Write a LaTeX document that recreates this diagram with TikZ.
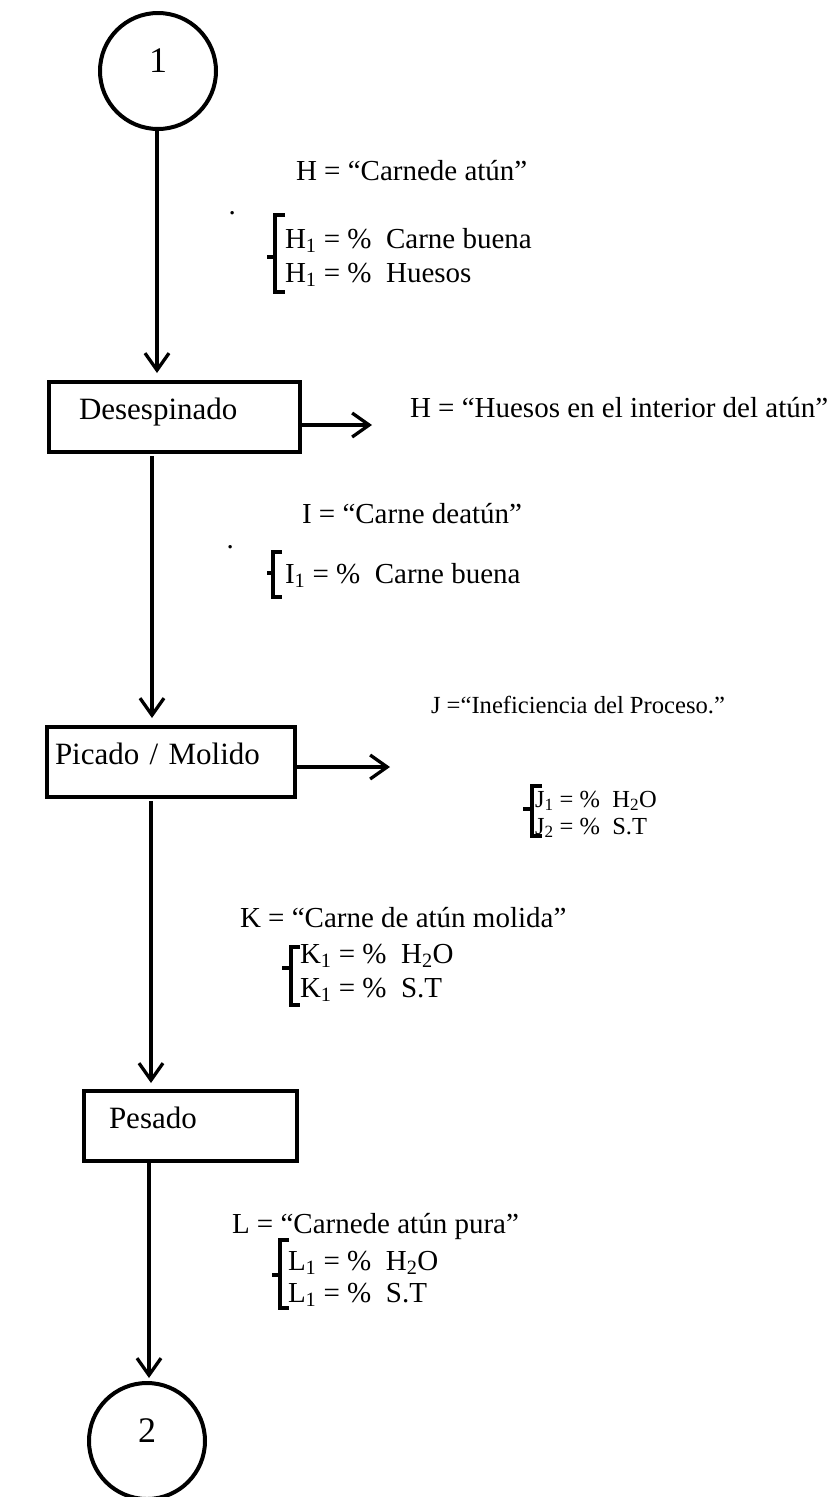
\documentclass[tikz,border=0pt]{standalone}
\usepackage{fontspec}
\setmainfont{Liberation Serif}
\usetikzlibrary{arrows.meta,calc}
\newcommand\bodytxt{\fontsize{29pt}{34pt}\selectfont}
\newcommand\stagetxt{\fontsize{31pt}{36pt}\selectfont}
\newcommand\numtxt{\fontsize{36pt}{42pt}\selectfont}
\newcommand\smalltxt{\fontsize{24.6pt}{30pt}\selectfont}
\newcommand\listtxt{\fontsize{24.5pt}{30pt}\selectfont}
\begin{document}
\begin{tikzpicture}[x=1pt,y=-1pt,
  every node/.style={font=\bodytxt, inner sep=0pt, outer sep=0pt},
  stage/.style={draw, line width=4pt, rectangle, anchor=north west,
    minimum height=70pt, align=left, font=\stagetxt,
    text height=0.7em, text depth=0.25em},
  terminal/.style={draw, circle, line width=4pt, minimum size=116pt,
    font=\numtxt, text height=0.676em, text depth=0.47em},
  flow/.style={line width=3.3pt, -{Straight Barb[length=17pt,width=24pt]}},
  lbl/.style={anchor=base west},
  bracebar/.style={line width=3.2pt, line join=miter},
  bracetip/.style={line width=4pt},
]
\useasboundingbox (0,0) rectangle (838,1497);

% terminals and process stages
\node[terminal] (c1) at (158,71) {1};
\node[stage, text width=191pt, inner xsep=30pt] (b1) at (49,382) {Desespinado};
\node[stage, text width=232pt, inner xsep=8pt] (b2) at (47,727) {Picado / Molido};
\node[stage, text width=163pt, inner xsep=25pt] (b3) at (84,1091) {Pesado};
\node[terminal] (c2) at (147,1441) {2};

% columns of the main flow
\coordinate (k1) at (157,0);
\coordinate (k2) at (152,0);
\coordinate (k3) at (151,0);
\coordinate (k4) at (149,0);
\draw[flow, shorten >=9pt] (c1.south -| k1) -- (b1.north -| k1);
\draw[flow, shorten <=4pt, shorten >=9pt] (b1.south -| k2) -- (b2.north -| k2);
\draw[flow, shorten <=4pt, shorten >=8pt] (b2.south -| k3) -- (b3.north -| k3);
\draw[flow, shorten <=2pt, shorten >=5pt] (b3.south -| k4) -- (c2.north -| k4);

% side outputs
\coordinate (o1) at (372,425);
\coordinate (o2) at (390,767);
\draw[flow] (b1.east |- o1) -- (o1);
\draw[flow] (b2.east |- o2) -- (o2);

% stream H
\node[lbl] (hT) at (296,180) {H = “Carnede atún”};
\node[lbl] (hd) at (228.5,214) {.};
\node[lbl] (h1) at (285,248) {H\textsubscript{1} = \%\enspace Carne buena};
\node[lbl] (h2) at (285,282) {H\textsubscript{1} = \%\enspace Huesos};
\draw[bracebar] (285,215) -- (275,215) -- (275,292) -- (285,292);
\draw[bracetip] (267,257) -- (275,257);

\node[lbl] (hs) at (410,417) {H = “Huesos en el interior del atún”};

% stream I
\node[lbl] (iT) at (302,523) {I = “Carne deatún”};
\node[lbl] (id) at (226.5,548) {.};
\node[lbl] (i1) at (285,583) {I\textsubscript{1} = \%\enspace Carne buena};
\draw[bracebar] (282,552) -- (273,552) -- (273,597) -- (282,597);
\draw[bracetip] (267,573) -- (273,573);

% stream J
\node[lbl, font=\smalltxt] (jT) at (431,713) {J =“Ineficiencia del Proceso.”};
\node[lbl, font=\listtxt] (j1) at (535,807) {J\textsubscript{1} = \%\enspace H\textsubscript{2}O};
\node[lbl, font=\listtxt] (j2) at (535,834) {J\textsubscript{2} = \%\enspace S.T};
\draw[bracebar] (542,786) -- (532,786) -- (532,836) -- (542,836);
\draw[bracetip] (523,809) -- (532,809);

% stream K
\node[lbl] (kT) at (240,927) {K = “Carne de atún molida”};
\node[lbl] (kk1) at (300,963) {K\textsubscript{1} = \%\enspace H\textsubscript{2}O};
\node[lbl] (kk2) at (300,997) {K\textsubscript{1} = \%\enspace S.T};
\draw[bracebar] (300,947) -- (291,947) -- (291,1005) -- (300,1005);
\draw[bracetip] (282,968) -- (291,968);

% stream L
\node[lbl] (lT) at (232,1233) {L = “Carnede atún pura”};
\node[lbl] (l1) at (288,1270) {L\textsubscript{1} = \%\enspace H\textsubscript{2}O};
\node[lbl] (l2) at (288,1302) {L\textsubscript{1} = \%\enspace S.T};
\draw[bracebar] (289,1240) -- (280,1240) -- (280,1308) -- (289,1308);
\draw[bracetip] (272,1275) -- (280,1275);
\end{tikzpicture}
\end{document}
